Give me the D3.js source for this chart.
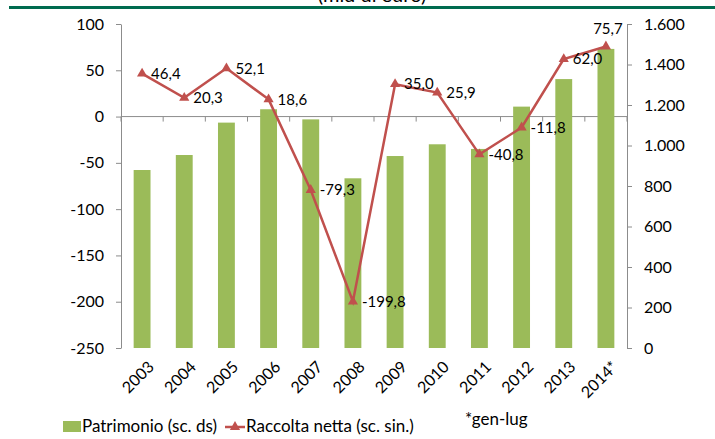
<!DOCTYPE html>
<html>
<head>
<meta charset="utf-8">
<script src="https://cdn.jsdelivr.net/npm/d3@7"></script>
<style>
  body { margin: 0; background: #fff; }
  svg { display: block; font-family: Lato, "Open Sans", sans-serif; }
</style>
</head>
<body>
<svg id="chart" width="715" height="439"></svg>
<script>
// data
const years = ["2003", "2004", "2005", "2006", "2007", "2008", "2009", "2010", "2011", "2012", "2013", "2014*"];
const patrimonio = [879, 953, 1113, 1179, 1129, 838, 948, 1006, 983, 1192, 1328, 1477]; // sc. ds
const raccolta = [46.4, 20.3, 52.1, 18.6, -79.3, -199.8, 35.0, 25.9, -40.8, -11.8, 62.0, 75.7]; // sc. sin.
const leftTicks = [100, 50, 0, -50, -100, -150, -200, -250];
const rightTicks = [0, 200, 400, 600, 800, 1000, 1200, 1400, 1600];

const green = "#9bbb59";
const red = "#c0504d";
const axisGrey = "#8c8c8c";

// italian number format, plain hyphen for negatives
const itLocale = d3.formatLocale({decimal: ",", thousands: ".", grouping: [3], currency: ["", ""], minus: "-"});
const fmtThousands = itLocale.format(",");
const fmtOneDec = itLocale.format(".1f");
const fmtInt = itLocale.format("d");

const svg = d3.select("#chart");

// header: cut title + green rule
svg.append("text")
    .attr("x", 372).attr("y", 2)
    .attr("text-anchor", "middle")
    .attr("font-size", 20)
    .text("(mld di euro)");
svg.append("rect")
    .attr("x", 9).attr("y", 6).attr("width", 706).attr("height", 3)
    .attr("fill", "#006b4f");

// scales
const plotLeft = 121, plotRight = 627, plotTop = 24, plotBottom = 348;
const x = d3.scaleBand().domain(years).range([plotLeft, plotRight]);
const yL = d3.scaleLinear().domain([-250, 100]).range([plotBottom, plotTop]);
const yR = d3.scaleLinear().domain([0, 1600]).range([plotBottom, plotTop]);

// left axis
const leftAxis = svg.append("g")
    .attr("transform", `translate(${plotLeft},0)`)
    .call(d3.axisLeft(yL).tickValues(leftTicks).tickFormat(fmtInt).tickSize(5).tickSizeOuter(0).tickPadding(12));
// right axis
const rightAxis = svg.append("g")
    .attr("transform", `translate(${plotRight},0)`)
    .call(d3.axisRight(yR).tickValues(rightTicks).tickFormat(fmtThousands).tickSize(5).tickSizeOuter(0).tickPadding(12));

[leftAxis, rightAxis].forEach(g => {
    g.select(".domain").attr("stroke", axisGrey);
    g.selectAll(".tick line").attr("stroke", axisGrey);
    g.selectAll(".tick text").attr("font-size", 16).attr("fill", "#000").attr("font-family", "Lato, sans-serif");
});

// category axis on the zero line of the left scale
const catAxis = svg.append("g").attr("transform", `translate(0,${yL(0)})`);
catAxis.append("line")
    .attr("x1", plotLeft).attr("x2", plotRight)
    .attr("stroke", axisGrey);
const bounds = years.map(d => x(d)).concat([plotRight]);
catAxis.selectAll("line.tk")
    .data(bounds)
    .join("line")
    .attr("class", "tk")
    .attr("x1", d => d).attr("x2", d => d)
    .attr("y1", 0).attr("y2", 5)
    .attr("stroke", axisGrey);

// year labels at the bottom, rotated
svg.append("g")
    .selectAll("text")
    .data(years)
    .join("text")
    .attr("transform", d => `translate(${x(d) + x.bandwidth() / 2 + 5},${plotBottom + 12}) rotate(-45)`)
    .attr("text-anchor", "end")
    .attr("dy", "0.7em")
    .attr("font-size", 16)
    .text(d => d);

// bars (right scale)
const barW = x.bandwidth() * 0.4;
svg.append("g")
    .selectAll("rect")
    .data(patrimonio)
    .join("rect")
    .attr("x", (d, i) => x(years[i]) + (x.bandwidth() - barW) / 2)
    .attr("y", d => yR(d))
    .attr("width", barW)
    .attr("height", d => yR(0) - yR(d))
    .attr("fill", green);

// line (left scale)
const cx = i => x(years[i]) + x.bandwidth() / 2;
const line = d3.line().x((d, i) => cx(i)).y(d => yL(d));
svg.append("path")
    .datum(raccolta)
    .attr("d", line)
    .attr("fill", "none")
    .attr("stroke", red)
    .attr("stroke-width", 2.5);

const tri = d3.symbol(d3.symbolTriangle, 45);
svg.append("g")
    .selectAll("path")
    .data(raccolta)
    .join("path")
    .attr("transform", (d, i) => `translate(${cx(i)},${yL(d)})`)
    .attr("d", tri)
    .attr("fill", red);

// data labels: right of the point, last one above
const last = raccolta.length - 1;
svg.append("g")
    .selectAll("text")
    .data(raccolta)
    .join("text")
    .attr("x", (d, i) => i === last ? cx(i) + 2 : cx(i) + 9)
    .attr("y", (d, i) => i === last ? yL(d) - 12 : yL(d))
    .attr("dy", (d, i) => i === last ? 0 : "0.35em")
    .attr("text-anchor", (d, i) => i === last ? "middle" : "start")
    .attr("font-size", 15)
    .text(d => fmtOneDec(d));

// legend
const leg = svg.append("g");
leg.append("rect")
    .attr("x", 63).attr("y", 421).attr("width", 18).attr("height", 11)
    .attr("fill", green);
leg.append("text")
    .attr("x", 82).attr("y", 432)
    .attr("font-size", 17)
    .text("Patrimonio (sc. ds)");
leg.append("line")
    .attr("x1", 225).attr("x2", 245).attr("y1", 427).attr("y2", 427)
    .attr("stroke", red).attr("stroke-width", 2.5);
leg.append("path")
    .attr("transform", "translate(235,427)")
    .attr("d", tri)
    .attr("fill", red);
leg.append("text")
    .attr("x", 246).attr("y", 432)
    .attr("font-size", 17)
    .text("Raccolta netta (sc. sin.)");
svg.append("text")
    .attr("x", 465).attr("y", 425)
    .attr("font-size", 17)
    .text("*gen-lug");
</script>
</body>
</html>
